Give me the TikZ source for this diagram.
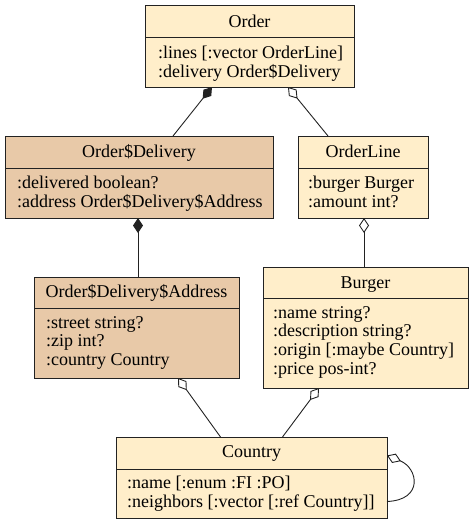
\documentclass[tikz,border=0pt]{standalone}
\usepackage{fontspec}
\setmainfont{Liberation Serif}
\usetikzlibrary{arrows.meta}
\definecolor{cream}{HTML}{FFEECA}
\definecolor{boxtan}{HTML}{E8C9A8}
\definecolor{edgec}{HTML}{222222}
\begin{document}
\begin{tikzpicture}[x=1pt,y=-1pt,
  box/.style={draw=edgec, line width=1pt, rectangle, inner sep=0pt, outer sep=0pt},
  sepl/.style={draw=edgec, line width=1pt},
  hdr/.style={anchor=base, inner sep=0pt, font=\fontsize{18}{18.7}\selectfont},
  attr/.style={anchor=base west, inner sep=0pt, font=\fontsize{18}{18.7}\selectfont},
  conn/.style={draw=edgec, line width=0.9pt},
  comp/.style={conn, -{Diamond[length=15pt,width=10pt]}},
  aggr/.style={conn, -{Diamond[open,length=15pt,width=10pt]}},
]
\useasboundingbox (0,0) rectangle (474,525);

% Order
\node[box, fill=cream, minimum width=209pt, minimum height=82pt] (order) at (249.5,46) {};
\draw[sepl] (order.west |- 0,37) -- (order.east |- 0,37);
\node[hdr] (orderT) at (249.5,27) {Order};
\node[attr] (orderA1) at (158,58) {:lines [:vector OrderLine]};
\node[attr] (orderA2) at (158,77) {:delivery Order\$Delivery};

% Order$Delivery
\node[box, fill=boxtan, minimum width=268pt, minimum height=82pt] (od) at (139,177) {};
\draw[sepl] (od.west |- 0,168) -- (od.east |- 0,168);
\node[hdr] (odT) at (139,157.5) {Order\$Delivery};
\node[attr] (odA1) at (17,188) {:delivered boolean?};
\node[attr] (odA2) at (17,207) {:address Order\$Delivery\$Address};

% OrderLine
\node[box, fill=cream, minimum width=130pt, minimum height=82pt] (ol) at (363,177) {};
\draw[sepl] (ol.west |- 0,168) -- (ol.east |- 0,168);
\node[hdr] (olT) at (363,157.5) {OrderLine};
\node[attr] (olA1) at (308,188) {:burger Burger};
\node[attr] (olA2) at (308,207) {:amount int?};

% Order$Delivery$Address
\node[box, fill=boxtan, minimum width=205pt, minimum height=101pt] (addr) at (136.5,327.5) {};
\draw[sepl] (addr.west |- 0,308) -- (addr.east |- 0,308);
\node[hdr] (addrT) at (136.5,297) {Order\$Delivery\$Address};
\node[attr] (addrA1) at (46,328) {:street string?};
\node[attr] (addrA2) at (46,346.7) {:zip int?};
\node[attr] (addrA3) at (46,365.4) {:country Country};

% Burger
\node[box, fill=cream, minimum width=205pt, minimum height=121pt] (burger) at (365.5,327.5) {};
\draw[sepl] (burger.west |- 0,298) -- (burger.east |- 0,298);
\node[hdr] (burgerT) at (365.5,288) {Burger};
\node[attr] (burgerA1) at (273,318) {:name string?};
\node[attr] (burgerA2) at (273,336.7) {:description string?};
\node[attr] (burgerA3) at (273,355.4) {:origin [:maybe Country]};
\node[attr] (burgerA4) at (273,374.1) {:price pos-int?};

% Country
\node[box, fill=cream, minimum width=271pt, minimum height=81pt] (country) at (251.5,477.5) {};
\draw[sepl] (country.west |- 0,469) -- (country.east |- 0,469);
\node[hdr] (countryT) at (251.5,457.5) {Country};
\node[attr] (countryA1) at (127,488) {:name [:enum :FI :PO]};
\node[attr] (countryA2) at (127,507) {:neighbors [:vector [:ref Country]]};

% connectors
\draw[comp] ([xshift=34pt]od.north) -- ([xshift=-37.5pt]order.south);
\draw[aggr] ([xshift=-35pt]ol.north) -- ([xshift=38.5pt]order.south);
\draw[comp] ([xshift=1.5pt]addr.north) -- ([xshift=-1pt]od.south);
\draw[aggr] ([xshift=-1.5pt]burger.north) -- ([xshift=1pt]ol.south);
\draw[aggr] ([xshift=-31pt]country.north) -- ([xshift=41.5pt]addr.south);
\draw[aggr] ([xshift=31pt]country.north) -- ([xshift=-46.5pt]burger.south);
\draw[aggr] ([yshift=-24pt]country.east) .. controls (424,500) and (418,468) .. ([yshift=22pt]country.east);
\end{tikzpicture}
\end{document}
